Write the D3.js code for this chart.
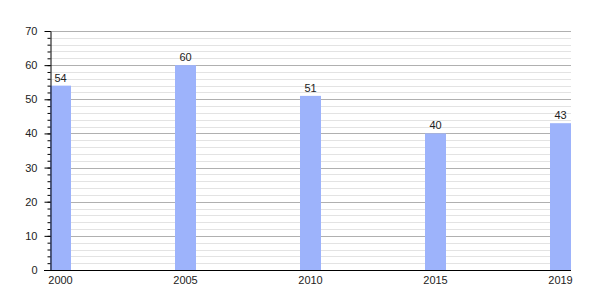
<!DOCTYPE html>
<html>
<head>
<meta charset="utf-8">
<script src="https://cdn.jsdelivr.net/npm/d3@7"></script>
<style>
  body { margin: 0; background: #fff; }
  svg { display: block; font-family: "Liberation Sans", Arial, sans-serif; }
</style>
</head>
<body>
<div id="chart"></div>
<script>
const years = ["2000", "2005", "2010", "2015", "2019"];
const values = [54, 60, 51, 40, 43];
const majorTicks = [0, 10, 20, 30, 40, 50, 60, 70];

const width = 600, height = 300;
const margin = { top: 31, right: 29, bottom: 30, left: 50 };
const innerWidth = width - margin.left - margin.right;
const innerHeight = height - margin.top - margin.bottom;

const svg = d3.select("#chart").append("svg")
  .attr("width", width)
  .attr("height", height);

const g = svg.append("g")
  .attr("transform", `translate(${margin.left},${margin.top})`);

const x = d3.scaleBand()
  .domain(years)
  .range([0, innerWidth])
  .paddingInner(0.832)
  .paddingOuter(0);

const y = d3.scaleLinear()
  .domain([0, 70])
  .range([innerHeight, 0]);

// minor grid every 2
g.append("g")
  .selectAll("line")
  .data(d3.range(2, 71, 2).filter(v => v % 10 !== 0))
  .join("line")
  .attr("x1", 0).attr("x2", innerWidth)
  .attr("y1", d => Math.round(y(d)) + 0.5)
  .attr("y2", d => Math.round(y(d)) + 0.5)
  .attr("stroke", "#e3e3e3");

// major grid
g.append("g")
  .selectAll("line")
  .data(majorTicks.filter(v => v > 0))
  .join("line")
  .attr("x1", 0).attr("x2", innerWidth)
  .attr("y1", d => Math.round(y(d)) + 0.5)
  .attr("y2", d => Math.round(y(d)) + 0.5)
  .attr("stroke", "#b0b0b0");

// bars
g.selectAll("rect.bar")
  .data(values)
  .join("rect")
  .attr("class", "bar")
  .attr("x", (d, i) => x(years[i]))
  .attr("y", d => y(d))
  .attr("width", x.bandwidth())
  .attr("height", d => innerHeight - y(d))
  .attr("fill", "#9db3fb");

// value labels
g.selectAll("text.val")
  .data(values)
  .join("text")
  .attr("class", "val")
  .attr("x", (d, i) => x(years[i]) + x.bandwidth() / 2)
  .attr("y", d => y(d) - 4)
  .attr("text-anchor", "middle")
  .attr("font-size", 11)
  .attr("fill", "#222")
  .text(d => d);

// left axis with minor ticks
const yAxis = g.append("g").attr("transform", "translate(0.5,0)");
yAxis.append("g")
  .call(d3.axisLeft(y).tickValues(d3.range(0, 71, 2)).tickSize(3).tickFormat(""))
  .call(a => a.select(".domain").remove())
  .call(a => a.selectAll("text").remove());
yAxis.append("g")
  .call(d3.axisLeft(y).tickValues(majorTicks).tickSize(6).tickPadding(7).tickSizeOuter(0))
  .call(a => a.selectAll("text").attr("font-size", 11).attr("fill", "#222").attr("font-family", null));
yAxis.selectAll("line").attr("stroke", "#000");
yAxis.selectAll(".domain").attr("stroke", "#000");

// bottom axis
const xAxis = g.append("g").attr("transform", `translate(0,${innerHeight + 0.5})`);
xAxis.call(d3.axisBottom(x).tickSize(0).tickPadding(6))
  .call(a => a.select(".domain").attr("stroke", "#000").attr("d", `M-6,0H${innerWidth}`))
  .call(a => a.selectAll("text").attr("font-size", 11).attr("fill", "#222").attr("font-family", null));
</script>
</body>
</html>
